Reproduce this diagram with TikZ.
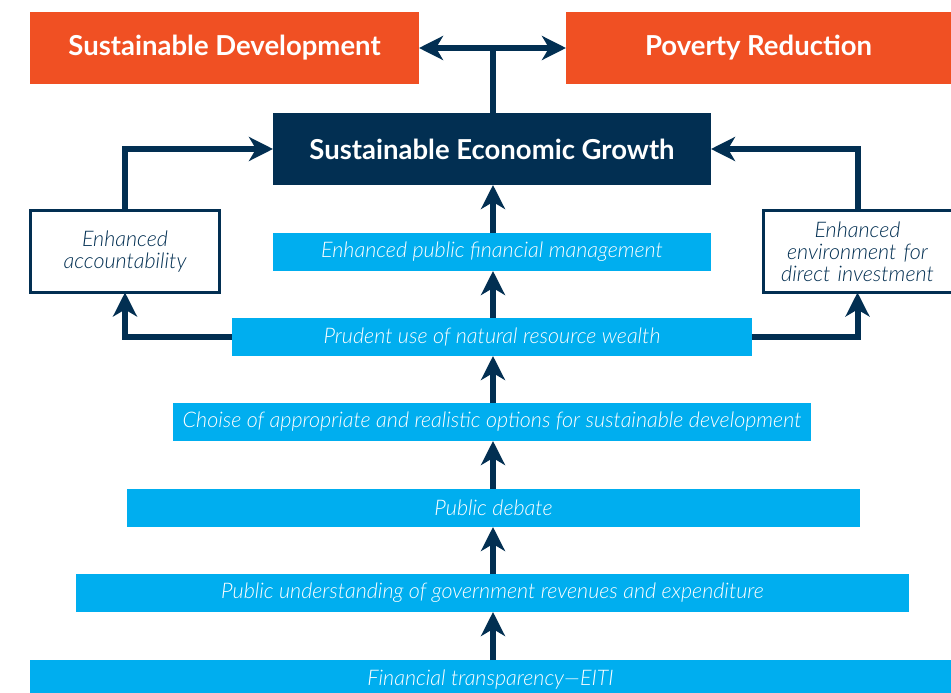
\documentclass[tikz,border=0pt]{standalone}
\usepackage{fontspec}
\setmainfont{Lato}
\newfontfamily\headfont{Lato}[UprightFont={* Bold}]
\newfontfamily\bodyfont{Lato Light}[ItalicFont={Lato Light Italic}]
\usetikzlibrary{arrows.meta}
\definecolor{outcome}{HTML}{F05023}
\definecolor{navy}{HTML}{022F52}
\definecolor{stepblue}{HTML}{00AEEF}
\tikzset{
  box/.style={inner sep=0pt, outer sep=0pt, anchor=center},
  goalbox/.style={box, fill=outcome, text=white, font=\headfont\fontsize{27.5}{30}\selectfont},
  corebox/.style={box, fill=navy, text=white, font=\headfont\fontsize{27.5}{30}\selectfont},
  stepbar/.style={box, fill=stepblue, text=white, font=\bodyfont\itshape\fontsize{21.5}{24}\selectfont},
  sidebox/.style={box, draw=navy, line width=3pt, fill=white, text=navy, align=center,
    font=\bodyfont\itshape\fontsize{21.5}{22}\selectfont},
  flow/.style={draw=navy, line width=6pt, -{Stealth[length=24pt,width=24pt,inset=7pt]}},
  flowboth/.style={draw=navy, line width=6pt, {Stealth[length=24pt,width=24pt,inset=7pt]}-{Stealth[length=24pt,width=24pt,inset=7pt]}},
}
\begin{document}
\begin{tikzpicture}[x=1pt,y=-1pt]
\useasboundingbox (0,0) rectangle (951,693);

% outcomes
\node[goalbox, minimum width=389pt, minimum height=72pt] (sd) at (224.5,48) {\raisebox{-2pt}{Sustainable Development}};
\node[goalbox, minimum width=385pt, minimum height=72pt] (pr) at (758.5,48) {\raisebox{-2pt}{Poverty Reduction}};

% central goal
\node[corebox, minimum width=438pt, minimum height=72pt] (seg) at (492,149) {Sustainable Economic Growth};

% side effects
\node[sidebox, minimum width=189pt, minimum height=82pt] (acc) at (125,251.5) {Enhanced\\accountability};
\node[sidebox, minimum width=189pt, minimum height=82pt, text width=183pt] (env) at (857.5,251.5) {Enhanced\\environment for\\direct investment};

% chain of steps
\node[stepbar, minimum width=438pt, minimum height=38pt] (pfm) at (492,252) {Enhanced public financial management};
\node[stepbar, minimum width=520pt, minimum height=38pt] (nrw) at (492,337) {Prudent use of natural resource wealth};
\node[stepbar, minimum width=638pt, minimum height=38pt] (opt) at (492,422) {Choise of appropriate and realistic options for sustainable development};
\node[stepbar, minimum width=733pt, minimum height=38pt] (deb) at (493.5,508) {Public debate};
\node[stepbar, minimum width=833pt, minimum height=38pt] (und) at (492.5,593) {Public understanding of government revenues and expenditure};
\node[stepbar, minimum width=921pt, minimum height=40pt] (eiti) at (490.5,680) {Financial transparency—EITI};

% growth feeds both outcomes
\coordinate (split) at (493,48);
\draw[flowboth] (sd.east) -- (pr.west);
\draw[draw=navy, line width=6pt] (seg.north -| split) -- ([yshift=-3pt]split);

% upward chain
\foreach \lo/\hi in {eiti/und, und/deb, deb/opt, opt/nrw, nrw/pfm, pfm/seg}
  \draw[flow] (\lo.north -| split) -- (\hi.south -| split);

% side loops
\draw[flow] (nrw.west) -| (acc.south);
\draw[flow] (nrw.east) -| (env.south);
\draw[flow] (acc.north) |- (seg.west);
\draw[flow] (env.north) |- (seg.east);
\end{tikzpicture}
\end{document}
